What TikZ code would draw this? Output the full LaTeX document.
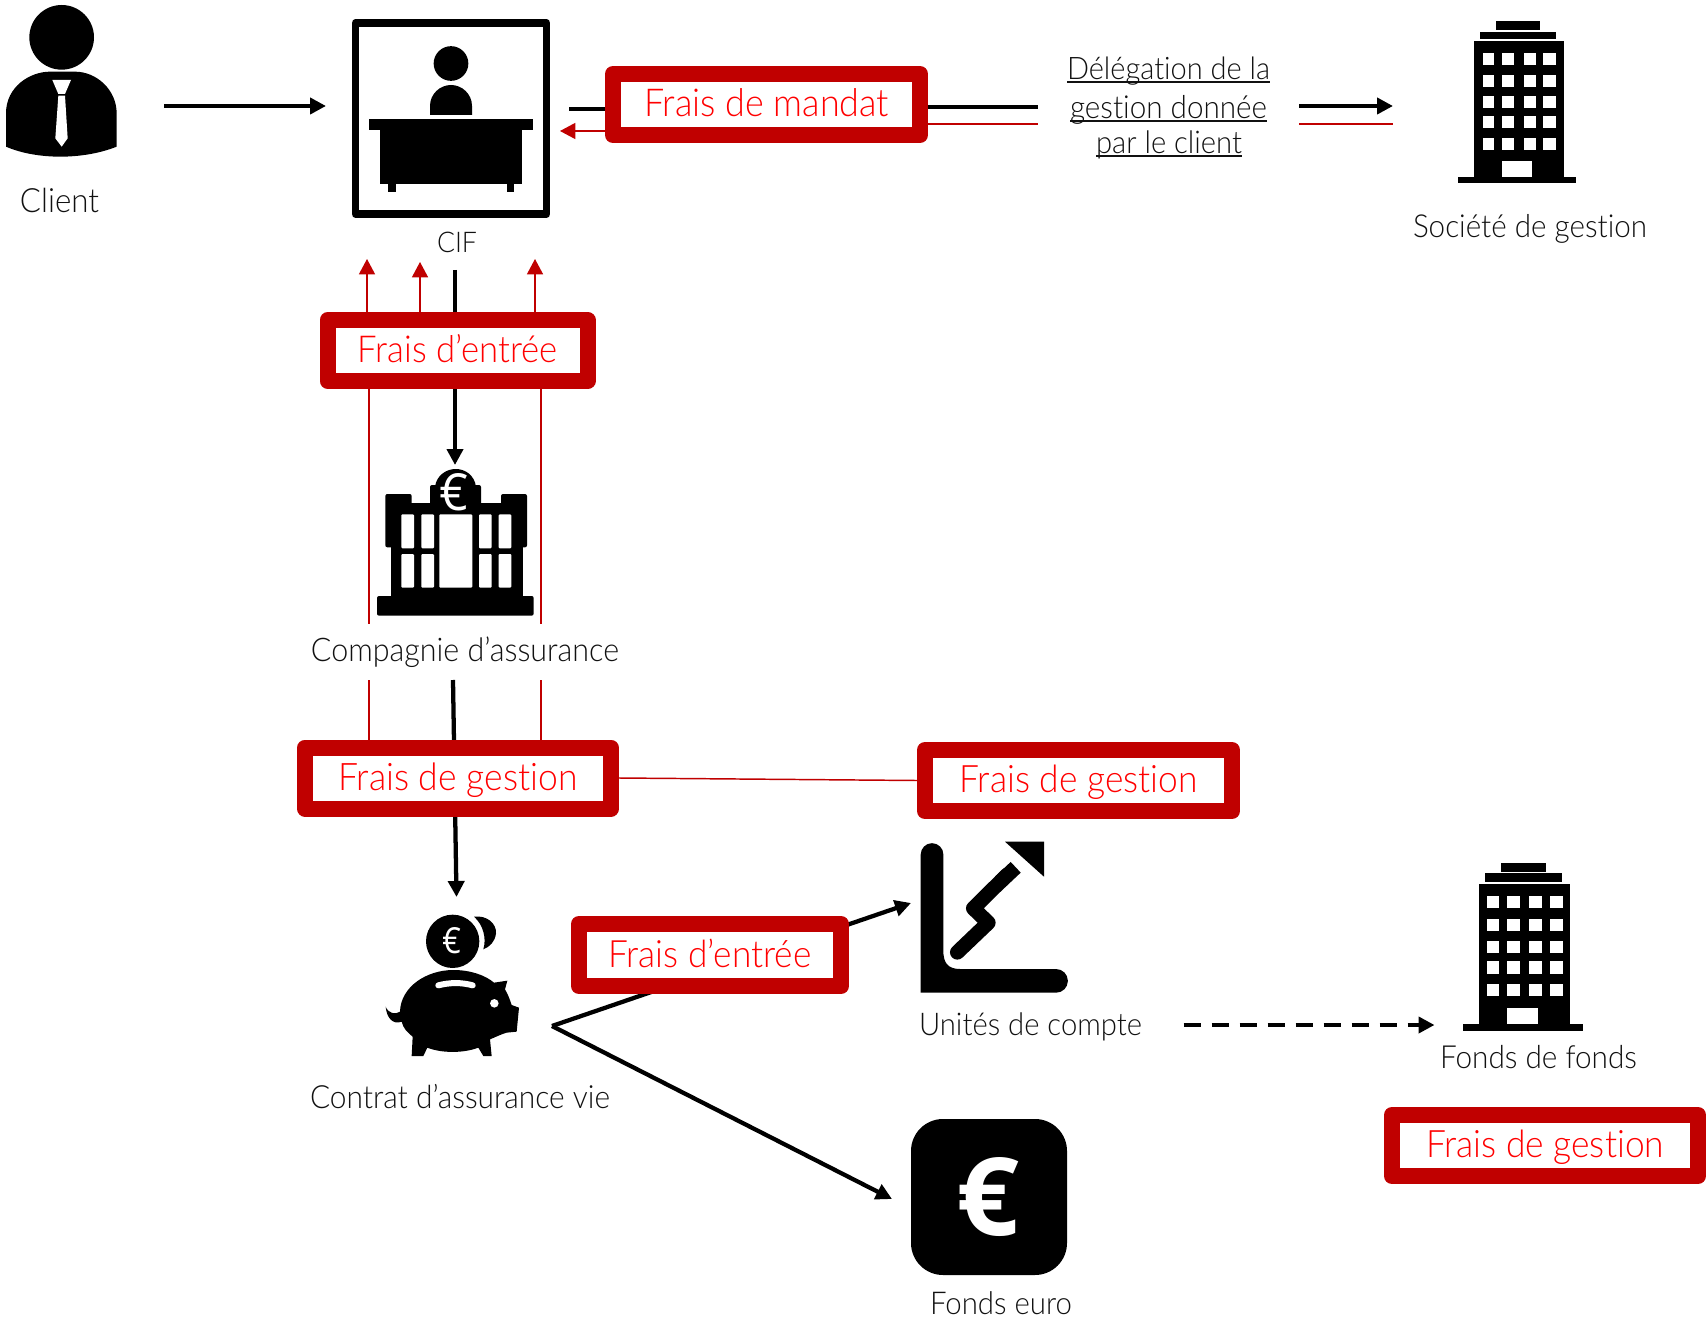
\documentclass[tikz,border=0pt]{standalone}
\usepackage{fontspec}
\usepackage{graphicx}
\usetikzlibrary{arrows.meta,backgrounds}
\setmainfont{Lato Light}[Ligatures=CommonOff]
\newfontfamily\eurofont{Open Sans}
\definecolor{feered}{HTML}{C00000}
\definecolor{feetext}{HTML}{FF0000}
\definecolor{inktext}{HTML}{111111}
\newdimen\pxu \pxu=0.75pt
\newcommand{\fitw}[2]{\scalebox{1}[1.07]{\resizebox{#1\pxu}{!}{\fontsize{23.25pt}{28pt}\selectfont #2}}}
\newsavebox\ulbox
\newcommand{\ulrule}[1]{\sbox\ulbox{#1}\rlap{\rule[-2.4pt]{\wd\ulbox}{1.5pt}}\usebox\ulbox}
\newcommand{\eurosign}[3]{\resizebox{#1\pxu}{#2\pxu}{#3\eurofont €}}
\tikzset{
  x=0.75pt,y=-0.75pt,
  feebox/.style={draw=feered,fill=white,line width=12pt,line join=round,inner sep=0pt,
    text=feetext,text height=18pt,text depth=0pt,align=center},
  lbl/.style={anchor=base,inner sep=0pt,text=inktext,yshift=-1.3pt},
  blackline/.style={draw=black,line width=3.2pt},
  redline/.style={draw=feered,line width=1.1pt},
  blacktip/.style={-{Triangle[length=12pt,width=12pt]}},
  redtip/.style={-{Triangle[length=11.5pt,width=12pt]}},
  ink/.style={fill=black,draw=none},
  paper/.style={fill=white,draw=none},
  zoomunits/.style={x=0.25pt,y=-0.25pt},
}
\begin{document}
\begin{tikzpicture}
\useasboundingbox (0,0) rectangle (1706,1319);

%% ---- fee boxes ----
\node[feebox,minimum width=230.25pt,minimum height=45.75pt] (mandat) at (766.5,104.5) {\fitw{245}{Frais de mandat}};
\node[feebox,minimum width=195pt,minimum height=45.75pt] (entreeA) at (457.5,350.5) {\fitw{200}{Frais d’entrée}};
\node[feebox,minimum width=229.5pt,minimum height=45.75pt] (gestionA) at (458,778) {\fitw{239}{Frais de gestion}};
\node[feebox,minimum width=230.25pt,minimum height=45.75pt] (gestionB) at (1078.5,780.5) {\fitw{238}{Frais de gestion}};
\node[feebox,minimum width=196.5pt,minimum height=46.5pt] (entreeB) at (710,955) {\fitw{203}{Frais d’entrée}};
\node[feebox,minimum width=229.5pt,minimum height=45.75pt] (gestionC) at (1545,1145.5) {\fitw{238}{Frais de gestion}};

%% ---- free ends of connectors ----
\coordinate (clientOut) at (164,106);
\coordinate (cifIn) at (326,106);
\coordinate (cifOutR) at (569,109);
\coordinate (cifInR) at (560,131);
\coordinate (delegA) at (1038,107);
\coordinate (delegRedA) at (1038,124);
\coordinate (delegB) at (1299,106);
\coordinate (societeIn) at (1393,106);
\coordinate (delegRedB) at (1299,124);
\coordinate (societeRed) at (1393,124);
\coordinate (cifTipA) at (367,259);
\coordinate (cifTipB) at (420,262);
\coordinate (cifTipC) at (535,259);
\coordinate (cifOutD) at (455,270);
\coordinate (bankIn) at (455,465);
\coordinate (bankRedL) at (369,624);
\coordinate (bankRedR) at (541,624);
\coordinate (compRedL) at (369,680);
\coordinate (compRedR) at (541,680);
\coordinate (compOut) at (453,680);
\coordinate (pigIn) at (456.5,897);
\coordinate (pigOut) at (552,1026);
\coordinate (unitsIn) at (911,903);
\coordinate (euroIn) at (892,1199);
\coordinate (unitsOut) at (1183.5,1025);
\coordinate (fofIn) at (1434.5,1025);

%% ---- connectors ----
\begin{scope}[on background layer]
\fill[white] (0,0) rectangle (1706,1319);
\draw[blackline,blacktip] (clientOut) -- (cifIn);
\draw[blackline] (cifOutR) -- (mandat.west |- cifOutR);
\draw[redline,redtip] (mandat.west |- cifInR) -- (cifInR);
\draw[blackline,line width=3.6pt] (mandat.east |- delegA) -- (delegA);
\draw[redline] (mandat.east |- delegRedA) -- (delegRedA);
\draw[blackline,line width=3.6pt,blacktip] (delegB) -- (societeIn);
\draw[redline] (delegRedB) -- (societeRed);
\draw[redline,redtip] (cifTipA |- entreeA.north) -- (cifTipA);
\draw[redline,redtip] (cifTipB |- entreeA.north) -- (cifTipB);
\draw[redline,redtip] (cifTipC |- entreeA.north) -- (cifTipC);
\draw[blackline,blacktip] (cifOutD) -- (bankIn);
\draw[redline] (bankRedL |- entreeA.south) -- (bankRedL);
\draw[redline] (bankRedR |- entreeA.south) -- (bankRedR);
\draw[redline] (compRedL) -- (compRedL |- gestionA.north);
\draw[redline] (compRedR) -- (compRedR |- gestionA.north);
\draw[blackline,blacktip] (compOut) -- (pigIn);
\draw[redline] (gestionA.east) -- (gestionB.west);
\draw[blackline,blacktip,line join=round] (pigOut) -- (unitsIn);
\draw[blackline,blacktip] (pigOut) -- (euroIn);
\draw[blackline,blacktip,dash pattern=on 12.75pt off 8.25pt] (unitsOut) -- (fofIn);
\end{scope}

%% ---- labels ----
\node[lbl] (tClient) at (59.5,211) {\fitw{79}{Client}};
\node[lbl] (tCif) at (457,251) {\fitw{40}{CIF}};
\node[lbl] (tDelegA) at (1168.5,78) {\fitw{203}{\ulrule{Délégation de la}}};
\node[lbl] (tDelegB) at (1168.5,117) {\fitw{197}{\ulrule{gestion donnée}}};
\node[lbl] (tDelegC) at (1169,152) {\fitw{146}{\ulrule{par le client}}};
\node[lbl] (tSociete) at (1530,236) {\fitw{234}{Société de gestion}};
\node[lbl] (tComp) at (465,660) {\fitw{308}{Compagnie d’assurance}};
\node[lbl] (tContrat) at (460,1107) {\fitw{300}{Contrat d’assurance vie}};
\node[lbl] (tUnits) at (1030.5,1034) {\fitw{223}{Unités de compte}};
\node[lbl] (tFof) at (1538.5,1067) {\fitw{197}{Fonds de fonds}};
\node[lbl] (tEuro) at (1001,1313) {\fitw{142}{Fonds euro}};

%% ---- client icon ----
\begin{scope}[shift={(0,0)},zoomunits]
\fill[ink] (185,112) circle[radius=24.25pt];
\fill[ink] (18,440) -- (18,340) .. controls (18,260) and (90,215) .. (150,215) -- (225,215)
  .. controls (290,215) and (350,270) .. (350,340) -- (350,440)
  .. controls (250,480) and (110,480) .. (18,440) -- cycle;
\fill[paper] (157,240) -- (213,240) -- (195,282) -- (175,282) -- cycle;
\fill[paper] (175,287) -- (195,287) -- (203,415) -- (185,440) -- (166,415) -- cycle;
\end{scope}

%% ---- CIF icon ----
\node[draw=black,line width=5.6pt,line join=round,minimum width=143.25pt,minimum height=143.25pt,inner sep=0pt] (cif) at (451,118.5) {};
\fill[ink] (451,63.5) ellipse[x radius=13pt,y radius=13pt];
\fill[ink] (430,115) -- (430,106) .. controls (430,94) and (440,85) .. (451,85)
  .. controls (462,85) and (472,94) .. (472,106) -- (472,115) -- cycle;
\fill[ink] (369,119) rectangle (533,130);
\fill[ink] (380,130) rectangle (522,184);
\fill[ink] (388,184) rectangle (395.5,192);
\fill[ink] (506.5,184) rectangle (514,192);

%% ---- tower icons ----
\fill[ink] (1496,21) rectangle (1540,30);
\fill[ink] (1480,32) rectangle (1556,39);
\fill[ink] (1474,41) rectangle (1564,177);
\fill[ink] (1458,177) rectangle (1576,183);
\foreach \wx/\wxx in {1482.5/1494,1502/1514,1523.5/1536,1543/1556}
  \foreach \wy/\wyy in {53/65,75/87,96/108,116/128,138/150}
    \fill[paper] (\wx,\wy) rectangle (\wxx,\wyy);
\fill[paper] (1502,161) rectangle (1532,177);

\fill[ink] (1501,863) rectangle (1546,872);
\fill[ink] (1485,873) rectangle (1562,882);
\fill[ink] (1479,884) rectangle (1570,1024);
\fill[ink] (1463,1024) rectangle (1583,1031);
\foreach \wx/\wxx in {1487/1499,1507/1519.5,1529/1542,1550/1562.5}
  \foreach \wy/\wyy in {896/908,919/931,941/953,961/974,984/996}
    \fill[paper] (\wx,\wy) rectangle (\wxx,\wyy);
\fill[paper] (1507,1008) rectangle (1538,1024);

%% ---- insurance company icon ----
\begin{scope}[shift={(370,460)},zoomunits]
\fill[ink,rounded corners=1.5pt] (21,408) rectangle (491,467);
\fill[ink] (62,130) rectangle (458,412);
\fill[ink,rounded corners=1.5pt] (46,102) rectangle (125,262);
\fill[ink,rounded corners=1.5pt] (393,102) rectangle (471,262);
\fill[ink,rounded corners=1.5pt] (180,75) rectangle (333,140);
\fill[ink] (195,80) .. controls (200,45) and (230,27) .. (257,27)
  .. controls (285,27) and (313,45) .. (318,80) -- cycle;
\foreach \wx/\wxx in {94/132,154/192,327/365,386/424}
  \foreach \wy/\wyy in {163/265,282/383}
    \fill[paper,rounded corners=0.8pt] (\wx,\wy) rectangle (\wxx,\wyy);
\fill[paper,rounded corners=0.8pt] (208,163) rectangle (307,383);
\end{scope}
\node[inner sep=0pt,text=white] (bankEuro) at (454,492) {\eurosign{29}{37}{}};

%% ---- piggy bank icon ----
\begin{scope}[shift={(370,900)},zoomunits]
\fill[ink] (248,124) circle[radius=20pt];
\fill[ink] (312,50) .. controls (350,45) and (380,70) .. (378,100)
  .. controls (375,125) and (360,140) .. (340,148)
  .. controls (350,115) and (340,75) .. (312,50) -- cycle;
\fill[ink] (90,335) .. controls (92,260) and (170,210) .. (250,210)
  .. controls (300,210) and (345,225) .. (372,248) -- (412,242) -- (405,268)
  .. controls (415,285) and (420,300) .. (425,315) -- (447,323) -- (440,395) -- (410,398)
  .. controls (395,402) and (375,412) .. (360,418) -- (365,468) -- (340,468) -- (325,443)
  .. controls (280,460) and (215,460) .. (172,443) -- (160,468) -- (125,468) -- (128,410)
  .. controls (110,395) and (100,385) .. (95,365)
  .. controls (70,375) and (50,355) .. (47,320)
  .. controls (55,340) and (75,345) .. (90,335) -- cycle;
\draw[white,line width=4.5pt,line cap=round] (205,256) .. controls (240,247) and (275,247) .. (308,256);
\fill[paper] (373,310) circle[radius=3.2pt];
\end{scope}
\node[inner sep=0pt,text=white] (pigEuro) at (451.7,940.7) {\eurosign{19}{26}{}};

%% ---- unit-linked icon ----
\fill[ink] (920.7,992.7) -- (920.7,854.5) arc[start angle=180,end angle=0,radius=8.5pt] -- (943.3,950)
  .. controls (943.3,962) and (947,969) .. (960,969) -- (1056,969)
  arc[start angle=90,end angle=-90,radius=8.9pt] -- cycle;
\draw[black,line width=11pt,line cap=round,line join=round] (957.3,952.3) -- (988.3,922.7) -- (973.3,908.3) -- (1007,875);
\draw[black,line width=11pt,line cap=butt] (1000,882) -- (1015.7,867.3);
\fill[ink] (1005,841.7) -- (1044,841.7) -- (1044,876.7) -- cycle;

%% ---- euro fund icon ----
\node[fill=black,rounded corners=24pt,minimum width=117pt,minimum height=117pt,inner sep=0pt,text=white] (euroFund) at (989,1197) {\kern-2pt\eurosign{63}{78}{\bfseries}};
\end{tikzpicture}
\end{document}
